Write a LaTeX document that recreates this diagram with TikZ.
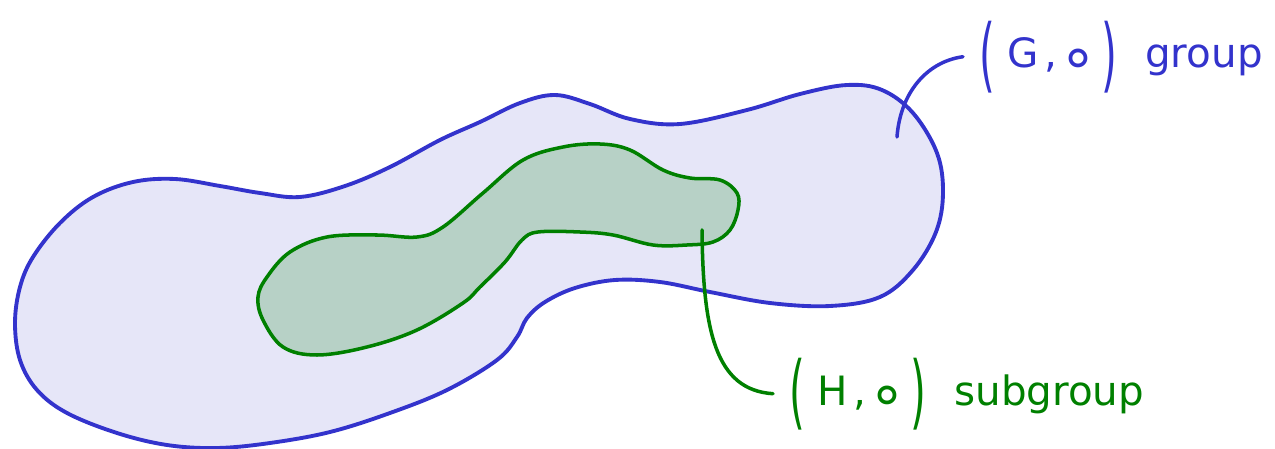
\documentclass[tikz,border=0pt]{standalone}
\usepackage{fontspec}
\setmainfont{DejaVu Sans}
\definecolor{groupline}{RGB}{51,51,204}
\definecolor{groupfill}{RGB}{230,230,248}
\definecolor{subline}{RGB}{0,128,0}
\definecolor{subfill}{RGB}{183,209,198}
\newcommand{\tallparen}[1]{\raisebox{-8pt}{\scalebox{1}[2]{#1}}}
\newcommand{\ringop}{\raisebox{-5.5pt}{\scalebox{1.5}{∘}}}
\newcommand{\pairlabel}[1]{\tallparen{(}\hspace{0.3em}#1\hspace{0.15em},\hspace{0.05em}\ringop\hspace{0.1em}\tallparen{)}\hspace{0.7em}}
\tikzset{
  blob/.style={line width=2.2pt, line join=round},
  tag/.style={anchor=base west, inner xsep=9pt, inner ysep=0pt, font=\fontsize{23}{27}\selectfont},
  pin/.style={line width=2pt, line cap=round},
}

\begin{document}
\begin{tikzpicture}[x=0.02cm, y=-0.02cm]
    \useasboundingbox (0,0) rectangle (1275,449);

    % Group G
    \draw[blob, draw=groupline, fill=groupfill] plot[smooth cycle, tension=0.6] coordinates {
        (15,323) (20,287) (33,257) (60,223) (93,197) (133,182) (175,179)
        (220,186) (260,193) (300,197) (345,186) (390,167) (440,140) (480,122)
        (520,103) (555,95) (590,104) (630,119) (680,124) (747,110) (800,94)
        (847,85) (882,90) (913,113) (937,153) (943,193) (936,232) (913,270)
        (880,297) (830,306) (770,303) (710,292) (660,282) (615,280) (575,288)
        (545,302) (527,318) (517,337) (497,360) (447,390) (390,413) (330,432)
        (270,443) (217,448) (167,445) (117,433) (67,413) (37,390) (20,360)};

    % Subgroup H
    \draw[blob, draw=subline, fill=subfill, line width=2pt] plot[smooth cycle, tension=0.6] coordinates {
        (258,297) (267,277) (290,252) (327,237) (377,235) (417,237) (443,227)
        (483,193) (523,160) (563,147) (600,144) (630,150) (663,170) (690,178)
        (720,180) (737,193) (738,210) (730,230) (713,242) (687,245) (653,245)
        (613,235) (580,232) (538,232) (522,240) (505,262) (480,287) (463,303)
        (417,330) (367,347) (317,355) (283,347) (263,320)};

    % Labels
    \node[tag, text=groupline] (gLabel) at (963,68) {\pairlabel{G}group};
    \node[tag, text=subline] (hLabel) at (773,405) {\pairlabel{H}subgroup};

    \coordinate (gPin) at (897,137);
    \coordinate (hPin) at (702,230);
    \draw[pin, groupline] (gPin) .. controls (900,95) and (925,62) .. (gLabel.west);
    \draw[pin, subline] (hPin) .. controls (703,330) and (715,390) .. (hLabel.west);
\end{tikzpicture}
\end{document}
